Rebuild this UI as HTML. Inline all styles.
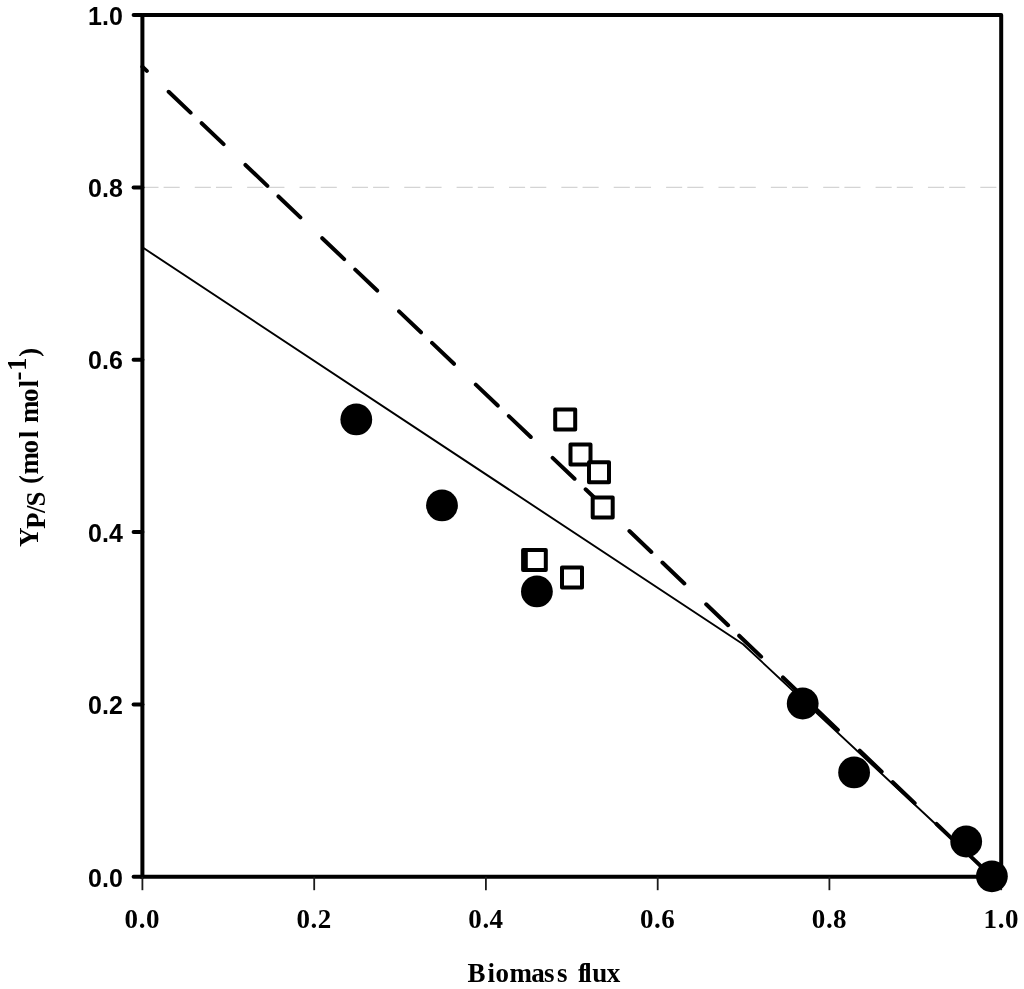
<!DOCTYPE html>
<html><head><meta charset="utf-8"><title>Chart</title>
<style>html,body{margin:0;padding:0;background:#fff;}body{width:1024px;height:989px;overflow:hidden;}svg{display:block;}</style>
</head><body>
<svg width="1024" height="989" viewBox="0 0 1024 989">
<line x1="142.4" y1="187.4" x2="1001.2" y2="187.4" stroke="#d4d4d4" stroke-width="1.3" stroke-dasharray="16.1 5.1 16.1 15.07"/>
<polyline points="142.4,247.3 743.1,644.3 992.0,876.8" fill="none" stroke="#000" stroke-width="1.9" stroke-linejoin="round"/>
<line x1="142.4" y1="66.7" x2="992.0" y2="876.8" stroke="#000" stroke-width="4" stroke-linecap="round" stroke-dasharray="30.3 15.3 30.3 30.2" stroke-dashoffset="69.8"/>
<path d="M142.4,15.0 L1001.2,15.0 L1001.2,876.8" fill="none" stroke="#000" stroke-width="4" stroke-linejoin="round"/>
<path d="M142.4,15.0 L142.4,876.8 L1001.2,876.8" fill="none" stroke="#000" stroke-width="4"/>
<line x1="133.6" y1="876.8" x2="142.4" y2="876.8" stroke="#000" stroke-width="4" stroke-linecap="round"/>
<line x1="133.6" y1="704.4" x2="142.4" y2="704.4" stroke="#000" stroke-width="4" stroke-linecap="round"/>
<line x1="133.6" y1="532.1" x2="142.4" y2="532.1" stroke="#000" stroke-width="4" stroke-linecap="round"/>
<line x1="133.6" y1="359.7" x2="142.4" y2="359.7" stroke="#000" stroke-width="4" stroke-linecap="round"/>
<line x1="133.6" y1="187.4" x2="142.4" y2="187.4" stroke="#000" stroke-width="4" stroke-linecap="round"/>
<line x1="133.6" y1="15.0" x2="142.4" y2="15.0" stroke="#000" stroke-width="4" stroke-linecap="round"/>
<line x1="142.4" y1="876.8" x2="142.4" y2="890.2" stroke="#1a1a1a" stroke-width="1.8"/>
<line x1="314.2" y1="876.8" x2="314.2" y2="890.2" stroke="#1a1a1a" stroke-width="1.8"/>
<line x1="485.9" y1="876.8" x2="485.9" y2="890.2" stroke="#1a1a1a" stroke-width="1.8"/>
<line x1="657.7" y1="876.8" x2="657.7" y2="890.2" stroke="#1a1a1a" stroke-width="1.8"/>
<line x1="829.4" y1="876.8" x2="829.4" y2="890.2" stroke="#1a1a1a" stroke-width="1.8"/>
<line x1="1001.2" y1="876.8" x2="1001.2" y2="890.2" stroke="#1a1a1a" stroke-width="1.8"/>
<rect x="555.2" y="409.5" width="20.0" height="20.0" fill="#fff" stroke="#000" stroke-width="4" stroke-linejoin="round"/>
<rect x="570.5" y="444.5" width="20.0" height="20.0" fill="#fff" stroke="#000" stroke-width="4" stroke-linejoin="round"/>
<rect x="589.0" y="462.2" width="20.0" height="20.0" fill="#fff" stroke="#000" stroke-width="4" stroke-linejoin="round"/>
<rect x="592.7" y="497.5" width="20.0" height="20.0" fill="#fff" stroke="#000" stroke-width="4" stroke-linejoin="round"/>
<rect x="523.1" y="550.1" width="20.0" height="20.0" fill="#fff" stroke="#000" stroke-width="4" stroke-linejoin="round"/>
<rect x="525.8" y="550.1" width="20.0" height="20.0" fill="#fff" stroke="#000" stroke-width="4" stroke-linejoin="round"/>
<rect x="562.0" y="567.5" width="20.0" height="20.0" fill="#fff" stroke="#000" stroke-width="4" stroke-linejoin="round"/>
<circle cx="356.3" cy="419.4" r="15.9" fill="#000"/>
<circle cx="442.0" cy="505.4" r="15.9" fill="#000"/>
<circle cx="536.9" cy="591.4" r="15.9" fill="#000"/>
<circle cx="802.7" cy="703.5" r="15.9" fill="#000"/>
<circle cx="854.1" cy="772.4" r="15.9" fill="#000"/>
<circle cx="966.2" cy="841.5" r="15.9" fill="#000"/>
<circle cx="991.9" cy="876.3" r="15.9" fill="#000"/>
<text transform="matrix(1 0 0 1.04 0 -35.46)" x="122.8" y="886.6" text-anchor="end" font-family="&quot;Liberation Sans&quot;, Arial, sans-serif" font-weight="bold" font-size="25.0">0.0</text>
<text transform="matrix(1 0 0 1.04 0 -28.57)" x="122.8" y="714.2" text-anchor="end" font-family="&quot;Liberation Sans&quot;, Arial, sans-serif" font-weight="bold" font-size="25.0">0.2</text>
<text transform="matrix(1 0 0 1.04 0 -21.68)" x="122.8" y="541.9" text-anchor="end" font-family="&quot;Liberation Sans&quot;, Arial, sans-serif" font-weight="bold" font-size="25.0">0.4</text>
<text transform="matrix(1 0 0 1.04 0 -14.78)" x="122.8" y="369.5" text-anchor="end" font-family="&quot;Liberation Sans&quot;, Arial, sans-serif" font-weight="bold" font-size="25.0">0.6</text>
<text transform="matrix(1 0 0 1.04 0 -7.89)" x="122.8" y="197.2" text-anchor="end" font-family="&quot;Liberation Sans&quot;, Arial, sans-serif" font-weight="bold" font-size="25.0">0.8</text>
<text transform="matrix(1 0 0 1.04 0 -0.99)" x="122.8" y="24.8" text-anchor="end" font-family="&quot;Liberation Sans&quot;, Arial, sans-serif" font-weight="bold" font-size="25.0">1.0</text>
<text transform="matrix(1 0 0 1.04 0 -37.13)" x="124.6 138.8 146.0" y="928.2" font-family="&quot;Liberation Serif&quot;, serif" font-weight="bold" font-size="27.0">0.0</text>
<text transform="matrix(1 0 0 1.04 0 -37.13)" x="296.4 310.6 317.8" y="928.2" font-family="&quot;Liberation Serif&quot;, serif" font-weight="bold" font-size="27.0">0.2</text>
<text transform="matrix(1 0 0 1.04 0 -37.13)" x="468.2 482.4 489.6" y="928.2" font-family="&quot;Liberation Serif&quot;, serif" font-weight="bold" font-size="27.0">0.4</text>
<text transform="matrix(1 0 0 1.04 0 -37.13)" x="639.9 654.1 661.3" y="928.2" font-family="&quot;Liberation Serif&quot;, serif" font-weight="bold" font-size="27.0">0.6</text>
<text transform="matrix(1 0 0 1.04 0 -37.13)" x="811.7 825.9 833.1" y="928.2" font-family="&quot;Liberation Serif&quot;, serif" font-weight="bold" font-size="27.0">0.8</text>
<text transform="matrix(1 0 0 1.04 0 -37.13)" x="983.5 997.7 1004.9" y="928.2" font-family="&quot;Liberation Serif&quot;, serif" font-weight="bold" font-size="27.0">1.0</text>
<text transform="matrix(1 0 0 1.04 0 -39.26)" y="981.6" font-family="&quot;Liberation Serif&quot;, serif" font-weight="bold" font-size="27"><tspan x="467.4 487.6 495.5 509.5 531.3 544.0 557.0">Biomass</tspan> <tspan x="578.0 584.3 592.3 606.7">flux</tspan></text>
<text transform="translate(37.7 547.0) rotate(-90) scale(1 1.04)" font-family="&quot;Liberation Serif&quot;, serif" font-weight="bold" font-size="27"><tspan x="0.0" y="0">Y</tspan><tspan x="18.0 34.0 40.4" y="7.31">P/S</tspan><tspan y="0"> </tspan><tspan x="62.9 72.5 93.6 108.7" y="0">(mol</tspan><tspan y="0"> </tspan><tspan x="124.0 144.9 159.5" y="0">mol</tspan><tspan x="166.4 176.1" y="-11.25">-1</tspan><tspan x="190.3" y="0">)</tspan></text>
</svg>
</body></html>
